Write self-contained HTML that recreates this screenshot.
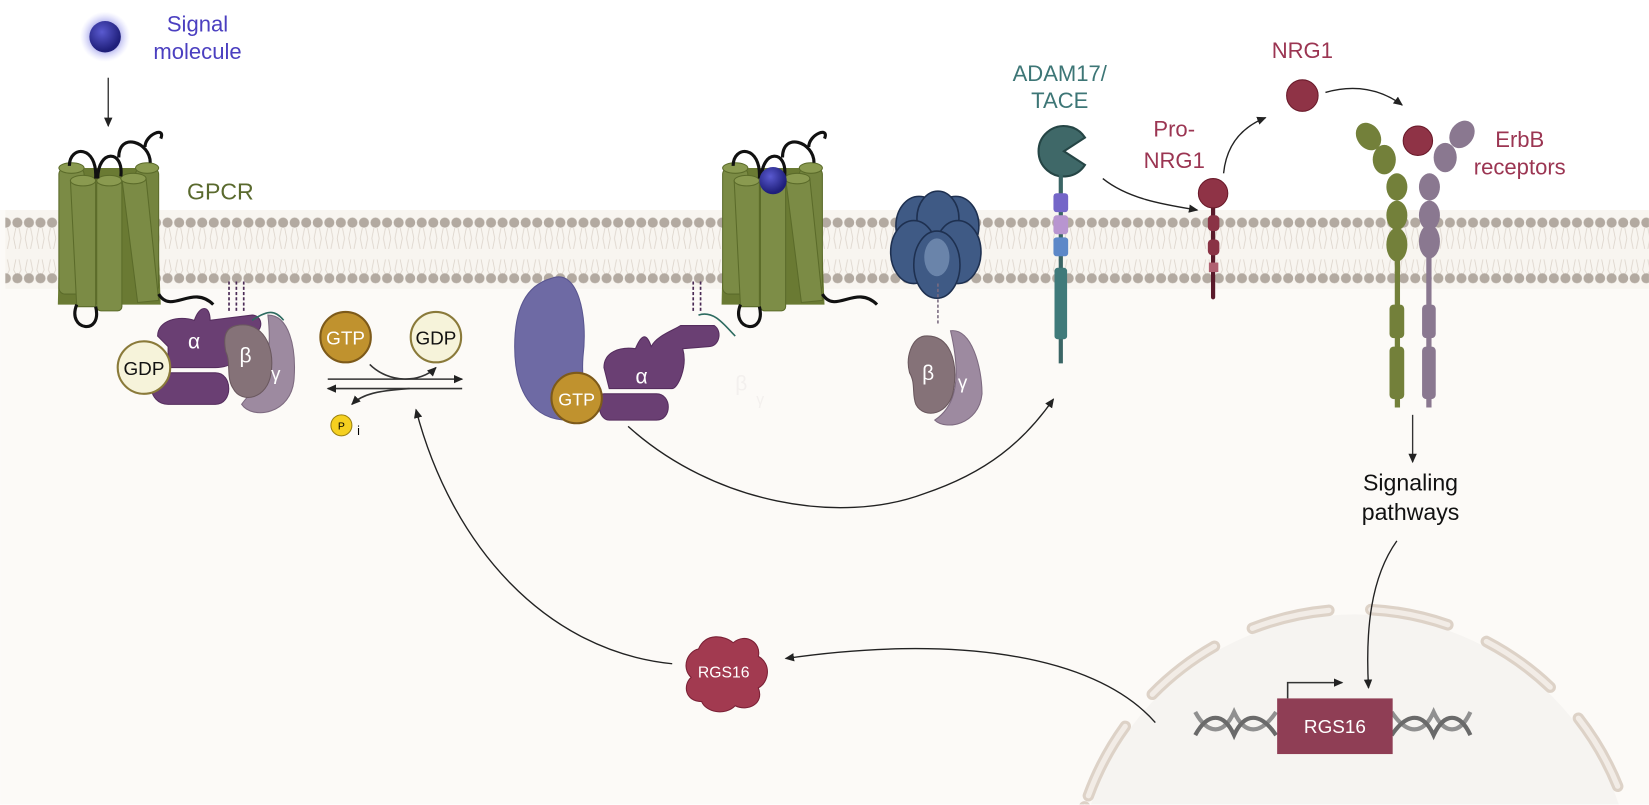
<!DOCTYPE html>
<html><head><meta charset="utf-8"><style>
html,body{margin:0;padding:0;background:#fff;width:1649px;height:805px;overflow:hidden;}
svg{display:block;font-family:"Liberation Sans",sans-serif;}
</style></head><body>
<svg width="1649" height="805" viewBox="0 0 1570 766.5" xmlns="http://www.w3.org/2000/svg">
<defs>
<clipPath id="frame"><rect x="0" y="0" width="1570" height="766"/></clipPath>
<pattern id="heads" x="0" y="203" width="11" height="80" patternUnits="userSpaceOnUse">
<path d="M4 14 L2 24 L4 34 M7 14 L9 24 L7 34 M4 44 L2 54 L4 58 M7 44 L9 54 L7 58" stroke="#ddd5cc" stroke-width="0.8" fill="none"/>
<circle cx="5.5" cy="9" r="4.8" fill="#b3aaa1"/>
<circle cx="5.5" cy="62" r="4.8" fill="#b3aaa1"/>
</pattern>
<marker id="ah" markerWidth="10" markerHeight="10" refX="8" refY="5" orient="auto" markerUnits="userSpaceOnUse">
<path d="M0 1 L9 5 L0 9 Z" fill="#222"/></marker>
<radialGradient id="sig" cx="40%" cy="35%" r="60%"><stop offset="0" stop-color="#5a5ad0"/><stop offset="1" stop-color="#1f1f7a"/></radialGradient>
<radialGradient id="glow"><stop offset="0.5" stop-color="#8a8ae0" stop-opacity="0.8"/><stop offset="1" stop-color="#c8c8ff" stop-opacity="0"/></radialGradient>
<g id="gpcr">
<path d="M-45 10 L45 10 L50 140 L-48 140 Z" fill="#6a7a33"/>
<rect x="-47" y="10" width="24" height="120" rx="6" fill="#7b8b45" stroke="#5b6b2a"/>
<ellipse cx="-35" cy="10" rx="12" ry="5" fill="#8a9a50" stroke="#5b6b2a"/>
<rect x="26" y="10" width="22" height="118" rx="6" fill="#74843f" stroke="#5b6b2a"/>
<ellipse cx="37" cy="10" rx="11" ry="5" fill="#8a9a50" stroke="#5b6b2a"/>
<path d="M-36 22 L-12 22 L-12 142 L-30 142 Z" fill="#7b8b45" stroke="#5b6b2a"/>
<ellipse cx="-24" cy="22" rx="12" ry="5" fill="#8a9a50" stroke="#5b6b2a"/>
<rect x="-11" y="22" width="24" height="124" rx="4" fill="#7d8d47" stroke="#5b6b2a"/>
<ellipse cx="1" cy="22" rx="12" ry="5" fill="#8a9a50" stroke="#5b6b2a"/>
<path d="M13 20 L36 20 L48 136 L28 138 Z" fill="#7b8b45" stroke="#5b6b2a"/>
<ellipse cx="24" cy="20" rx="12" ry="5" fill="#8a9a50" stroke="#5b6b2a"/>
<path d="M-37 8 C-37 -12 -10 -12 -12 20 M-10 20 C-10 -8 15 -8 12 18 M10 0 C10 -25 40 -15 40 5 M35 -10 C35 -22 55 -30 50 -18" stroke="#111" stroke-width="3" fill="none"/>
<path d="M-30 140 C-40 165 -5 170 -12 142 M48 130 C60 150 80 120 100 140" stroke="#111" stroke-width="3" fill="none"/>
</g>
</defs>
<rect x="0" y="200" width="1570" height="566" fill="#fcfaf7"/>
<rect x="0" y="0" width="1570" height="200" fill="#fff"/>
<rect x="5" y="200" width="1565" height="75" fill="#f8f5f0"/>
<rect x="5" y="203" width="1565" height="72" fill="url(#heads)"/>
<!-- nucleus -->
<g clip-path="url(#frame)">
<circle cx="1290" cy="850" r="265" fill="#f6f4f1"/>
<circle cx="1290" cy="850" r="270" fill="none" stroke="#ddd2c7" stroke-width="11" stroke-linecap="round" stroke-dasharray="75 40" transform="rotate(-160 1290 850)"/>
<circle cx="1290" cy="850" r="270" fill="none" stroke="#f2ece6" stroke-width="5" stroke-linecap="round" stroke-dasharray="75 40" transform="rotate(-160 1290 850)"/>
</g>
<!-- signal molecule -->
<circle cx="100" cy="35" r="24" fill="url(#glow)"/>
<circle cx="100" cy="35" r="15" fill="url(#sig)"/>
<text x="188" y="30" font-size="21" fill="#4b3fc0" text-anchor="middle">Signal</text>
<text x="188" y="56" font-size="21" fill="#4b3fc0" text-anchor="middle">molecule</text>
<line x1="103" y1="74" x2="103" y2="120" stroke="#333" stroke-width="1.3" marker-end="url(#ah)"/>
<use href="#gpcr" x="103" y="150"/>
<text x="178" y="190" font-size="22" fill="#5a6a2e">GPCR</text>
<!-- G protein left -->
<path d="M218 268 l0 30 M225 268 l0 30 M232 268 l0 30" stroke="#4a2a55" stroke-width="1.6" stroke-dasharray="3 2"/>
<path d="M150 320 C150 305 170 300 185 305 C190 290 200 290 200 305 L240 300 C250 300 252 315 240 318 L230 325 C235 340 220 350 205 350 L160 350 L160 330 Z" fill="#6a3f73" stroke="#552d5e"/>
<path d="M150 355 L205 355 C222 355 222 385 205 385 L160 385 C140 385 140 355 150 355 Z" fill="#6a3f73" stroke="#552d5e"/>
<text x="179" y="332" font-size="20" fill="#fff">α</text>
<path d="M255 300 C275 300 282 330 280 360 C278 395 240 400 230 385 C240 370 262 360 255 300 Z" fill="#9d8aa0" stroke="#7d6a80"/>
<path d="M225 310 C250 305 262 330 258 355 C255 380 230 385 222 370 C215 360 220 345 215 335 C212 320 215 312 225 310 Z" fill="#857278" stroke="#6a585e"/>
<text x="228" y="345" font-size="20" fill="#fff">β</text>
<text x="258" y="362" font-size="18" fill="#fff">γ</text>
<path d="M240 305 C255 295 262 295 270 305" stroke="#2d6b60" stroke-width="1.5" fill="none"/>
<circle cx="137" cy="350" r="25" fill="#f6f3da" stroke="#8a7a3a" stroke-width="2"/>
<text x="137" y="357" font-size="18" text-anchor="middle" fill="#111">GDP</text>
<!-- GTP/GDP exchange -->
<circle cx="329" cy="321" r="24" fill="#c0922e" stroke="#7d5a1a" stroke-width="2"/>
<text x="329" y="328" font-size="18" text-anchor="middle" fill="#fff">GTP</text>
<circle cx="415" cy="321" r="24" fill="#f6f3da" stroke="#8a7a3a" stroke-width="2"/>
<text x="415" y="328" font-size="18" text-anchor="middle" fill="#111">GDP</text>
<line x1="312" y1="361" x2="440" y2="361" stroke="#333" stroke-width="1.5" marker-end="url(#ah)"/>
<line x1="440" y1="370" x2="312" y2="370" stroke="#333" stroke-width="1.5" marker-end="url(#ah)"/>
<path d="M352 347 C370 365 400 365 415 350" stroke="#333" stroke-width="1.5" fill="none" marker-end="url(#ah)"/>
<path d="M390 370 C360 372 345 375 335 385" stroke="#333" stroke-width="1.5" fill="none" marker-end="url(#ah)"/>
<circle cx="325" cy="405" r="10" fill="#f5d020" stroke="#9a8010"/>
<text x="325" y="409" font-size="10" text-anchor="middle">P</text>
<text x="340" y="414" font-size="12">i</text>
<!-- middle activated complex -->
<path d="M525 265 C550 255 560 300 555 340 C552 380 570 400 545 400 C505 402 490 370 490 330 C490 295 500 272 525 265 Z" fill="#6e6aa4" stroke="#5a5690"/>
<path d="M660 268 l0 30 M667 268 l0 30" stroke="#4a2a55" stroke-width="1.6" stroke-dasharray="3 2"/>
<path d="M665 300 C680 295 690 310 700 320" stroke="#2d6b60" stroke-width="1.5" fill="none"/>
<path d="M575 350 C575 335 590 330 605 332 C610 320 615 315 620 330 C625 320 640 315 648 310 L680 310 C688 315 685 330 675 330 L650 332 C655 350 645 370 640 370 L580 370 Z" fill="#6a3f73" stroke="#552d5e"/>
<path d="M575 375 L625 375 C640 375 640 400 625 400 L580 400 C568 400 568 375 575 375 Z" fill="#6a3f73" stroke="#552d5e"/>
<text x="605" y="365" font-size="20" fill="#fff">α</text>
<circle cx="549" cy="379" r="24" fill="#c0922e" stroke="#7d5a1a" stroke-width="2"/>
<text x="549" y="386" font-size="17" text-anchor="middle" fill="#fff">GTP</text>
<use href="#gpcr" x="735" y="150"/>
<circle cx="736" cy="172" r="13" fill="url(#sig)"/>
<text x="700" y="372" font-size="20" fill="#f3f0ee">β</text>
<text x="720" y="385" font-size="15" fill="#f3f0ee">γ</text>
<!-- blue hexamer -->
<g stroke="#1e3050" stroke-width="1.5" fill="#3f5a85">
<ellipse cx="875" cy="215" rx="22" ry="28"/><ellipse cx="910" cy="215" rx="22" ry="28"/>
<ellipse cx="893" cy="208" rx="20" ry="26"/>
<ellipse cx="870" cy="240" rx="22" ry="30"/><ellipse cx="912" cy="240" rx="22" ry="30"/>
<ellipse cx="892" cy="252" rx="22" ry="32"/>
</g>
<ellipse cx="892" cy="245" rx="12" ry="18" fill="#6a84aa"/>
<path d="M893 270 l0 40" stroke="#7a6a80" stroke-width="1.5" stroke-dasharray="3 2"/>
<path d="M905 315 C925 312 935 350 935 375 C932 405 900 410 890 400 C905 390 918 370 905 315 Z" fill="#9d8aa0" stroke="#7d6a80"/>
<path d="M880 320 C905 318 912 345 908 370 C905 395 880 400 872 385 C868 375 872 365 866 355 C862 340 868 322 880 320 Z" fill="#857278" stroke="#6a585e"/>
<text x="878" y="362" font-size="20" fill="#fff">β</text>
<text x="912" y="370" font-size="18" fill="#fff">γ</text>
<!-- ADAM17 -->
<text x="1009" y="77" font-size="21" fill="#3d7676" text-anchor="middle">ADAM17/</text>
<text x="1009" y="103" font-size="21" fill="#3d7676" text-anchor="middle">TACE</text>
<path d="M1033 131 A24 24 0 1 0 1033 157 L1013 144 Z" fill="#3f6868" stroke="#254545" stroke-width="2"/>
<line x1="1010" y1="166" x2="1010" y2="346" stroke="#3a6565" stroke-width="4"/>
<rect x="1003" y="184" width="14" height="18" rx="3" fill="#7466c8"/>
<rect x="1003" y="205" width="14" height="18" rx="3" fill="#b895d0"/>
<rect x="1003" y="226" width="14" height="18" rx="3" fill="#5d88c8"/>
<rect x="1004" y="255" width="12" height="68" rx="3" fill="#3f7a7a"/>
<!-- Pro-NRG1 -->
<text x="1118" y="130" font-size="21" fill="#9b3552" text-anchor="middle">Pro-</text>
<text x="1118" y="160" font-size="21" fill="#9b3552" text-anchor="middle">NRG1</text>
<line x1="1155" y1="190" x2="1155" y2="283" stroke="#5a1a2a" stroke-width="4" stroke-linecap="round"/>
<rect x="1150" y="205" width="11" height="15" rx="4" fill="#8a3345"/>
<rect x="1150" y="228" width="11" height="15" rx="4" fill="#8a3345"/>
<rect x="1151" y="250" width="9" height="9" fill="#b06070"/>
<circle cx="1155" cy="184" r="14" fill="#8f3346" stroke="#6a1a2a"/>
<path d="M1050 170 C1075 190 1110 195 1140 200" stroke="#222" stroke-width="1.3" fill="none" marker-end="url(#ah)"/>
<path d="M1165 165 C1168 135 1185 120 1205 112" stroke="#222" stroke-width="1.3" fill="none" marker-end="url(#ah)"/>
<!-- NRG1 -->
<text x="1240" y="55" font-size="21" fill="#9b3552" text-anchor="middle">NRG1</text>
<circle cx="1240" cy="91" r="15" fill="#8f3346" stroke="#6a1a2a"/>
<path d="M1262 88 C1290 80 1315 85 1335 100" stroke="#222" stroke-width="1.3" fill="none" marker-end="url(#ah)"/>
<!-- ErbB -->
<g fill="#73803a">
<ellipse cx="1303" cy="130" rx="11" ry="14" transform="rotate(-35 1303 130)"/>
<ellipse cx="1318" cy="152" rx="11" ry="14"/>
<ellipse cx="1330" cy="178" rx="10" ry="13"/>
<ellipse cx="1330" cy="205" rx="10" ry="14"/>
<ellipse cx="1330" cy="233" rx="10" ry="16"/>
<rect x="1328" y="240" width="5" height="148"/>
<rect x="1323" y="290" width="14" height="32" rx="4"/>
<rect x="1323" y="330" width="14" height="50" rx="4"/>
</g>
<g fill="#8a7890">
<ellipse cx="1392" cy="128" rx="11" ry="14" transform="rotate(35 1392 128)"/>
<ellipse cx="1376" cy="150" rx="11" ry="14"/>
<ellipse cx="1361" cy="178" rx="10" ry="13"/>
<ellipse cx="1361" cy="205" rx="10" ry="14"/>
<ellipse cx="1361" cy="230" rx="10" ry="16"/>
<rect x="1358" y="240" width="5" height="148"/>
<rect x="1354" y="290" width="13" height="32" rx="4"/>
<rect x="1354" y="330" width="13" height="50" rx="4"/>
</g>
<circle cx="1350" cy="134" r="14" fill="#8f3346" stroke="#6a1a2a"/>
<text x="1447" y="140" font-size="21" fill="#9b3552" text-anchor="middle">ErbB</text>
<text x="1447" y="166" font-size="21" fill="#9b3552" text-anchor="middle">receptors</text>
<line x1="1345" y1="395" x2="1345" y2="440" stroke="#333" stroke-width="1.3" marker-end="url(#ah)"/>
<text x="1343" y="467" font-size="22" fill="#111" text-anchor="middle">Signaling</text>
<text x="1343" y="495" font-size="22" fill="#111" text-anchor="middle">pathways</text>
<path d="M1330 515 C1305 550 1300 600 1303 655" stroke="#222" stroke-width="1.3" fill="none" marker-end="url(#ah)"/>
<!-- DNA & gene -->
<path d="M1138 678 C1150 700 1165 700 1175 678 C1185 700 1200 700 1215 678 M1325 678 C1340 700 1355 700 1365 678 C1375 700 1390 700 1400 678" stroke="#909090" stroke-width="4" fill="none"/>
<path d="M1138 700 C1150 678 1165 678 1175 700 C1185 678 1200 678 1215 700 M1325 700 C1340 678 1355 678 1365 700 C1375 678 1390 678 1400 700" stroke="#6a6a6a" stroke-width="4" fill="none"/>
<rect x="1216" y="665" width="110" height="53" fill="#8f3e55"/>
<text x="1271" y="698" font-size="18" fill="#fff" text-anchor="middle">RGS16</text>
<path d="M1226 665 L1226 650 L1278 650" stroke="#333" stroke-width="1.5" fill="none" marker-end="url(#ah)"/>
<!-- RGS16 protein -->
<path d="M665 618 C672 602 690 605 698 612 C710 602 725 612 722 625 C735 632 732 650 722 655 C728 670 712 678 700 672 C690 682 672 678 668 668 C652 668 650 652 658 645 C648 635 655 620 665 618 Z" fill="#a23a50" stroke="#7a2035"/>
<text x="689" y="645" font-size="15" fill="#fff" text-anchor="middle">RGS16</text>
<!-- long connectors -->
<path d="M598 406 C680 480 800 500 880 470 C940 450 975 420 1003 380" stroke="#222" stroke-width="1.3" fill="none" marker-end="url(#ah)"/>
<path d="M1100 688 C1040 620 900 605 748 627" stroke="#222" stroke-width="1.3" fill="none" marker-end="url(#ah)"/>
<path d="M640 632 C520 620 430 520 396 390" stroke="#222" stroke-width="1.3" fill="none" marker-end="url(#ah)"/>
</svg>
</body></html>
